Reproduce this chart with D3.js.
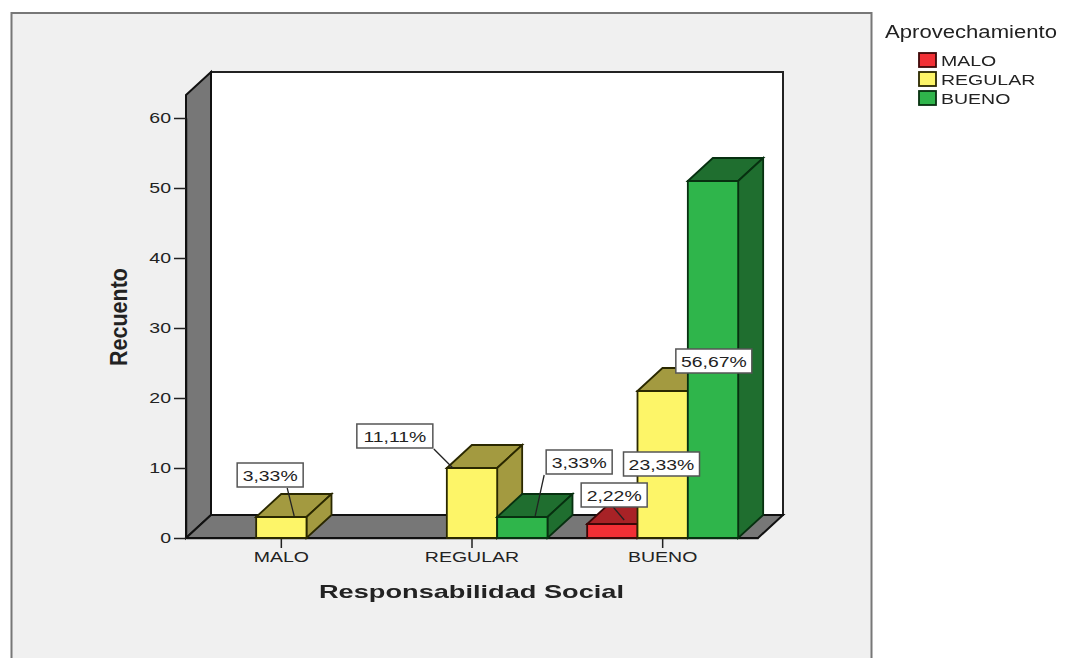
<!DOCTYPE html>
<html><head><meta charset="utf-8">
<script src="https://cdn.jsdelivr.net/npm/d3@7"></script>
<style>
html,body{margin:0;padding:0;background:#fff;overflow:hidden}
svg{display:block;filter:blur(0.45px)}
text{font-family:"Liberation Sans",Arial,sans-serif;fill:#222}
</style></head><body>
<svg id="c" width="1069" height="658"></svg>
<script>
const categories = ["MALO","REGULAR","BUENO"];
const seriesNames = ["MALO","REGULAR","BUENO"];
const seriesMalo = [0,0,2];
const seriesRegular = [3,10,21];
const seriesBueno = [0,3,51];
const percentMalo = [null,null,"2,22%"];
const percentRegular = ["3,33%","11,11%","23,33%"];
const percentBueno = [null,"3,33%","56,67%"];
const yTicks = [0,10,20,30,40,50,60];
const values = [seriesMalo,seriesRegular,seriesBueno];
const percents = [percentMalo,percentRegular,percentBueno];

const colors = [
 {front:"#f22f35",top:"#a82226",side:"#a82226",stroke:"#3d0808"},
 {front:"#fdf568",top:"#a39a40",side:"#a39a40",stroke:"#2a2800"},
 {front:"#2fb54b",top:"#1f6e2f",side:"#1f6e2f",stroke:"#073010"}
];
const DX=25, DY=-23, STRETCH=1.3;
const svg=d3.select("#c");
svg.append("rect").attr("x",11.5).attr("y",13).attr("width",860).attr("height",660)
  .attr("fill","#f0f0f0").attr("stroke","#777").attr("stroke-width",2);

const x=d3.scaleBand().domain(categories).range([186,758]);
const xs=d3.scaleBand().domain(seriesNames).range([-75.5,75.5]);
const y=d3.scaleLinear().domain([0,60]).range([538,118]);
const yTop=y(60)-23;
const right=x.range()[1], left=x.range()[0], base=y(0);
const poly=(pts,f,s,w)=>svg.append("polygon").attr("points",pts.map(p=>p.join(",")).join(" "))
  .attr("fill",f).attr("stroke",s).attr("stroke-width",w).attr("stroke-linejoin","miter");
const stretch=sel=>sel.attr("textLength",function(){return this.getComputedTextLength()*STRETCH;})
  .attr("lengthAdjust","spacingAndGlyphs");

// walls
poly([[left+DX,yTop+DY],[right+DX,yTop+DY],[right+DX,base+DY],[left+DX,base+DY]],"#fff","#222",2);
poly([[left,yTop],[left+DX,yTop+DY],[left+DX,base+DY],[left,base]],"#777","#111",2);
poly([[left,base],[left+DX,base+DY],[right+DX,base+DY],[right,base]],"#777","#111",2);

// axes
const ya=d3.axisLeft(y).tickValues(yTicks).tickSize(12).tickSizeOuter(0).tickPadding(3);
const gy=svg.append("g").attr("transform",`translate(${left},0)`).call(ya);
const xa=d3.axisBottom(x).tickSize(10).tickSizeOuter(0).tickPadding(3);
const gx=svg.append("g").attr("transform",`translate(0,${base})`).call(xa);
[gy,gx].forEach(g=>{g.select(".domain").attr("stroke","#111").attr("stroke-width",1.5);
 g.selectAll(".tick line").attr("stroke","#222").attr("stroke-width",1.5);
 g.selectAll("text").style("font-family",'"Liberation Sans",Arial,sans-serif').style("font-size","15px").attr("fill","#222").call(stretch);});

// bars
const barInfo=[];
categories.forEach((c,ci)=>{
  seriesNames.forEach((s,si)=>{
    const v=values[si][ci]; if(!v) return;
    const cx=x(c)+x.bandwidth()/2;
    const x0=cx+xs(s), x1=x0+xs.bandwidth(), yt=y(v), k=colors[si];
    poly([[x0,yt],[x0+DX,yt+DY],[x1+DX,yt+DY],[x1,yt]],k.top,k.stroke,1.8);
    poly([[x1,yt],[x1+DX,yt+DY],[x1+DX,base+DY],[x1,base]],k.side,k.stroke,1.8);
    poly([[x0,yt],[x1,yt],[x1,base],[x0,base]],k.front,k.stroke,1.8);
    barInfo.push({x0,x1,yt,label:percents[si][ci],ci,si});
  });
});

// labels: offsets of the box from the bar's top-left corner, and leader target
const labelLayout={
 "0-1":{dx:-19,dy:-54,lx:38,ly:-1,from:[50,25]},
 "1-1":{dx:-90,dy:-44,lx:6,ly:0,from:[77,25]},
 "1-2":{dx:49,dy:-67,lx:38,ly:-1,from:[-2,25]},
 "2-0":{dx:-6,dy:-41,lx:37,ly:-4,from:[32,24]},
 "2-1":{dx:-14,dy:61,lx:0,ly:0,from:null},
 "2-2":{dx:-12,dy:168,lx:0,ly:0,from:null}
};
barInfo.forEach(b=>{
  const l=labelLayout[b.ci+"-"+b.si];
  const bx=b.x0+l.dx, by=b.yt+l.dy, w=b.label.length>5?76:66, h=24;
  if(l.from) svg.append("line").attr("x1",bx+l.from[0]).attr("y1",by+l.from[1])
    .attr("x2",b.x0+l.lx).attr("y2",b.yt+l.ly).attr("stroke","#222").attr("stroke-width",1.3);
  svg.append("rect").attr("x",bx).attr("y",by).attr("width",w).attr("height",h)
    .attr("fill","#fff").attr("stroke","#555").attr("stroke-width",1.5);
  svg.append("text").attr("x",bx+w/2).attr("y",by+h/2+5.5).attr("text-anchor","middle")
    .attr("font-size","15.5px").text(b.label)
    .attr("textLength",function(){return this.getComputedTextLength()*1.25;}).attr("lengthAdjust","spacingAndGlyphs");
});

// titles
svg.append("text").attr("transform","translate(127,317) rotate(-90)").attr("text-anchor","middle")
  .attr("font-weight","bold").attr("font-size","24px").attr("textLength",98).attr("lengthAdjust","spacingAndGlyphs").text("Recuento");
svg.append("text").attr("x",471.5).attr("y",598).attr("text-anchor","middle")
  .attr("font-weight","bold").attr("font-size","19px").attr("textLength",305).attr("lengthAdjust","spacingAndGlyphs").text("Responsabilidad Social");

// legend
svg.append("text").attr("x",885).attr("y",38).attr("font-size","17.5px").attr("textLength",172).attr("lengthAdjust","spacingAndGlyphs").text("Aprovechamiento");
const ly=d3.scalePoint().domain(seriesNames).range([60,98]);
seriesNames.forEach((s,i)=>{
  svg.append("rect").attr("x",919).attr("y",ly(s)-7).attr("width",17).attr("height",14)
    .attr("fill",colors[i].front).attr("stroke",colors[i].stroke).attr("stroke-width",1.8);
  svg.append("text").attr("x",941).attr("y",ly(s)+5.5).attr("font-size","15px").text(s).call(stretch);
});
</script></body></html>
